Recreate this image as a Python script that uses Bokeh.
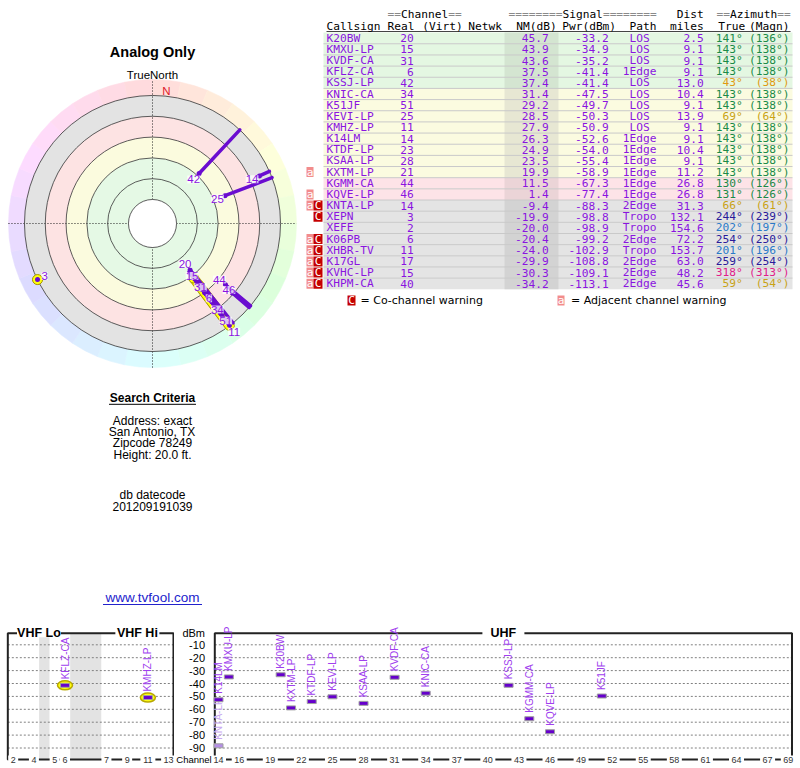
import math
import colorsys
from bokeh.plotting import figure
from bokeh.layouts import row, column
from bokeh.models import Range1d, ColumnDataSource, LabelSet
from bokeh.core.properties import value
from bokeh.embed import file_html
from bokeh.resources import INLINE

# ---------------- data ----------------
callsigns = ["K20BW", "KMXU-LP", "KVDF-CA", "KFLZ-CA", "KSSJ-LP", "KNIC-CA", "K51JF",
             "KEVI-LP", "KMHZ-LP", "K14LM", "KTDF-LP", "KSAA-LP", "KXTM-LP", "KGMM-CA",
             "KQVE-LP", "KNTA-LP", "XEPN", "XEFE", "K06PB", "XHBR-TV", "K17GL",
             "KVHC-LP", "KHPM-CA"]
real_ch = [20, 15, 31, 6, 42, 34, 51, 25, 11, 14, 23, 28, 21, 44, 46, 14, 3, 2, 6, 11, 17, 15, 40]
nm_db = [45.7, 43.9, 43.6, 37.5, 37.4, 31.4, 29.2, 28.5, 27.9, 26.3, 24.9, 23.5, 19.9, 11.5,
         1.4, -9.4, -19.9, -20.0, -20.4, -24.0, -29.9, -30.3, -34.2]
pwr_dbm = [-33.2, -34.9, -35.2, -41.4, -41.4, -47.5, -49.7, -50.3, -50.9, -52.6, -54.0, -55.4,
           -58.9, -67.3, -77.4, -88.3, -98.8, -98.9, -99.2, -102.9, -108.8, -109.1, -113.1]
path_type = ["LOS", "LOS", "LOS", "1Edge", "LOS", "LOS", "LOS", "LOS", "LOS", "1Edge", "1Edge",
             "1Edge", "1Edge", "1Edge", "1Edge", "2Edge", "Tropo", "Tropo", "2Edge", "Tropo",
             "2Edge", "2Edge", "2Edge"]
dist_miles = [2.5, 9.1, 9.1, 9.1, 13.0, 10.4, 9.1, 13.9, 9.1, 9.1, 10.4, 9.1, 11.2, 26.8, 26.8,
              31.3, 132.1, 154.6, 72.2, 153.7, 63.0, 48.2, 45.6]
az_true = [141, 143, 143, 143, 43, 143, 143, 69, 143, 143, 143, 143, 143, 130, 131, 66, 244,
           202, 254, 201, 259, 318, 59]
az_magn = [136, 138, 138, 138, 38, 138, 138, 64, 138, 138, 138, 138, 138, 126, 126, 61, 239,
           197, 250, 196, 254, 313, 54]
adj_warning = [0, 0, 0, 0, 0, 0, 0, 0, 0, 0, 0, 0, 1, 0, 1, 1, 0, 0, 1, 1, 1, 1, 1]
co_warning = [0, 0, 0, 0, 0, 0, 0, 0, 0, 0, 0, 0, 0, 0, 0, 1, 1, 0, 1, 1, 1, 1, 1]

chart_title = "Analog Only"
north_label = "TrueNorth"
ring_nm = [80, 60, 40, 20, 0, -20]
search_title = "Search Criteria"
search_lines = ["Address: exact", "San Antonio, TX", "Zipcode 78249", "Height: 20.0 ft."]
date_lines = ["db datecode", "201209191039"]
site_link = "www.tvfool.com"
dbm_ticks = [-10, -20, -30, -40, -50, -60, -70, -80, -90]
vhf_tick_ch = [2, 4, 5, 6, 7, 9, 11, 13]
uhf_tick_ch = [14, 16, 19, 22, 25, 28, 31, 34, 37, 40, 43, 46, 49, 52, 55, 58, 61, 64, 67, 69]
legend_texts = ["= Co-channel warning", "= Adjacent channel warning"]

# ---------------- styles ----------------
SANS = "Liberation Sans"
MONO = "DejaVu Sans Mono"
VERD = "DejaVu Sans"
PURPLE = "#8a14e0"
N = len(callsigns)
PAGE_W = 800


def make_fig(w, h, xr, yr):
    p = figure(width=w, height=h, x_range=Range1d(*xr), y_range=Range1d(*yr),
               output_backend="svg", toolbar_location=None,
               x_axis_location=None, y_axis_location=None, min_border=0)
    p.outline_line_color = None
    p.grid.visible = False
    p.background_fill_color = "white"
    p.border_fill_color = "white"
    return p


# ================= polar (left) =================
PX = 1.04           # px per dB in the radar
CX, CY = 152.0, 223.0
TOP_H = 612
LEFT_W = 305


def L(px, py):
    return ((px - CX) / PX, (CY - py) / PX)


pol = make_fig(LEFT_W, TOP_H, (L(0, 0)[0], L(LEFT_W, 0)[0]),
               (L(0, TOP_H)[1], L(0, 0)[1]))
CENTER_NM = 103.1


def rho(nm):
    return CENTER_NM - nm


R_OUT = rho(ring_nm[-1])
BAND = 16 / PX

# azimuth colour band
nseg = 32
st, en, cols = [], [], []
for k in range(nseg):
    a0 = 360.0 * k / nseg
    a1 = 360.0 * (k + 1) / nseg
    st.append(math.radians(90 - a1))
    en.append(math.radians(90 - a0))
    r, g, b = colorsys.hsv_to_rgb(((a0 + a1) / 2 % 360) / 360.0, 0.14, 1.0)
    cols.append("#%02x%02x%02x" % (int(r * 255), int(g * 255), int(b * 255)))
pol.annular_wedge(x=0, y=0, inner_radius=R_OUT, outer_radius=R_OUT + BAND,
                  start_angle=st, end_angle=en, fill_color=cols, line_color=cols,
                  line_width=0.6)

band_cols = ["#e5f9e5", "#e5f9e5", "#fbfbde", "#fde3e3", "#e3e3e3"]
pol.annulus(x=0, y=0, inner_radius=[rho(ring_nm[i]) for i in range(5)],
            outer_radius=[rho(ring_nm[i + 1]) for i in range(5)],
            fill_color=band_cols, line_color=None)

CR = R_OUT + BAND
pol.segment(x0=[-CR, 0], y0=[0, -CR], x1=[CR, 0], y1=[0, CR], line_color="#222",
            line_width=1, line_dash="1 2")
pol.circle(x=0, y=0, radius=[rho(v) for v in ring_nm[1:]], fill_color=None,
           line_color="#333", line_width=0.8)
pol.circle(x=0, y=0, radius=rho(ring_nm[0]), fill_color="white", line_color="#333",
           line_width=0.8)


def pxy(r, az):
    t = math.radians(90 - az)
    return r * math.cos(t), r * math.sin(t)


pol_idx = [i for i in range(N) if nm_db[i] > ring_nm[-1]]
vhf_pol = [i for i in pol_idx if real_ch[i] <= 13]


def seg_lists(idx):
    a = [pxy(rho(nm_db[i]), az_true[i]) for i in idx]
    b = [pxy(R_OUT, az_true[i]) for i in idx]
    return ([p[0] for p in a], [p[1] for p in a], [p[0] for p in b], [p[1] for p in b])


vx0, vy0, vx1, vy1 = seg_lists(vhf_pol)
pol.segment(x0=vx0, y0=vy0, x1=vx1, y1=vy1, line_color="#b4a400", line_width=10,
            line_cap="round")
pol.segment(x0=vx0, y0=vy0, x1=vx1, y1=vy1, line_color="#ffff10", line_width=8,
            line_cap="round")
pol.scatter(x=vx0, y=vy0, size=10, marker="circle", fill_color="#ffff10",
            line_color="#a89800", line_width=1)
ax0, ay0, ax1, ay1 = seg_lists(pol_idx)
pol.segment(x0=ax0, y0=ay0, x1=ax1, y1=ay1, line_color="#6a0cd0", line_width=3.5,
            line_cap="round")
pol.scatter(x=ax0, y=ay0, size=5, marker="circle", fill_color="#6a0cd0", line_color=None)

LABEL_IN = 8 / PX
LABEL_GAP = 14 / PX
LABEL_MAX = R_OUT + 10 / PX
placed = []
lx, ly, lt = [], [], []
for i in sorted(pol_idx, key=lambda j: -nm_db[j]):
    rl = rho(nm_db[i]) - LABEL_IN
    for (a, rr) in sorted(placed, key=lambda t: t[1]):
        if abs(a - az_true[i]) < 6 and abs(rl - rr) < LABEL_GAP:
            rl = rr + LABEL_GAP
    if rl > LABEL_MAX:
        continue
    placed.append((az_true[i], rl))
    x, y = pxy(rl, az_true[i])
    lx.append(x)
    ly.append(y)
    lt.append(str(real_ch[i]))
pol.add_layout(LabelSet(x="x", y="y", text="t", source=ColumnDataSource(dict(x=lx, y=ly, t=lt)),
                        text_align="center", text_baseline="middle", text_font=value(SANS),
                        text_font_size="11.5px", text_color=PURPLE,
                        background_fill_color="white", background_fill_alpha=0.75))


def ltext(px, py, txt, size, color="black", bold=False):
    x, y = L(px, py)
    pol.text(x=[x], y=[y], text=[txt], text_align="center", text_baseline="middle",
             text_font=value(SANS), text_font_size=size, text_color=color,
             text_font_style="bold" if bold else "normal")


ltext(152, 51.5, chart_title, "14.5px", bold=True)
ltext(152, 74.5, north_label, "11.5px")
ltext(166, 90.5, "N", "11.5px", color="#e0202a")
ltext(152, 397.3, search_title, "12px", bold=True)
u0, uy = L(108.5, 403.8)
u1, _ = L(195.5, 403.8)
pol.segment(x0=[u0], y0=[uy], x1=[u1], y1=[uy], line_color="black", line_width=1)
for k, s in enumerate(search_lines):
    ltext(152, 420 + 11.4 * k, s, "12px")
for k, s in enumerate(date_lines):
    ltext(152, 494.3 + 11.4 * k, s, "12px")
ltext(152, 597.3, site_link, "13.5px", color="#2222cc")
w0, wy = L(102.5, 604)
w1, _ = L(201.5, 604)
pol.segment(x0=[w0], y0=[wy], x1=[w1], y1=[wy], line_color="#2222cc", line_width=1)

# ================= table (right) =================
TAB_W = PAGE_W - LEFT_W
tab = make_fig(TAB_W, TOP_H, (LEFT_W, PAGE_W), (TOP_H, 0))
ROW0 = 37.7
ROWH = 11.16
ys = [ROW0 + ROWH * i for i in range(N)]


def grp(v):
    if v >= 35:
        return 0
    if v >= 15:
        return 1
    if v >= 0:
        return 2
    return 3


row_bg = ["#e4f7e2", "#fbfbe0", "#fde3e7", "#e4e4e4"]
strip_bg = ["#d4e5d1", "#e7e7d3", "#ebd4d7", "#d3d3d3"]
g = [grp(v) for v in nm_db]
tab.quad(left=323, right=792, top=[y - ROWH / 2 for y in ys], bottom=[y + ROWH / 2 for y in ys],
         fill_color=[row_bg[k] for k in g], line_color=None)
tab.quad(left=504, right=558, top=[y - ROWH / 2 for y in ys], bottom=[y + ROWH / 2 for y in ys],
         fill_color=[strip_bg[k] for k in g], line_color=None)
bounds = [y + ROWH / 2 for y in ys[:-1]]
tab.segment(x0=323, x1=792, y0=bounds, y1=bounds, line_color="#c9c9c9", line_width=1)
tab.segment(x0=[326], x1=[790], y0=[31], y1=[31], line_color="#444", line_width=1)

FS = "11.2px"
ADV = 0.602 * 11.2


def ttext(xs, yy, txts, align, color, font=MONO, size=FS):
    tab.text(x=xs, y=yy, text=txts, text_align=align, text_baseline="middle",
             text_font=value(font), text_font_size=size, text_color=color)


# header line 1
H1 = 14.3
for x0, word, neq in [(387, "Channel", 2), (508, "Signal", 8), (716, "Azimuth", 2)]:
    ttext([x0, x0 + (neq + len(word)) * ADV], [H1, H1], ["=" * neq, "=" * neq], "left", "#8a8a8a")
    ttext([x0 + neq * ADV], [H1], [word], "left", "black")
ttext([703.3], [H1], ["Dist"], "right", "black")
# header line 2
H2 = 25.7
ttext([326, 387, 421.7, 467.7, 515.7, 561.7, 629, 717.7], [H2] * 8,
      ["Callsign", "Real", "(Virt)", "Netwk", "NM(dB)", "Pwr(dBm)", "Path", "True"],
      "left", "black")
ttext([703.3, 789], [H2, H2], ["miles", "(Magn)"], "right", "black")


def az_color(a):
    if a < 30 or a >= 345:
        return "#d02020"
    if a < 55:
        return "#e09a10"
    if a < 100:
        return "#c8a214"
    if a < 185:
        return "#1a8a48"
    if a < 225:
        return "#2a7ac8"
    if a < 290:
        return "#2a1a9a"
    return "#e0208a"


ttext([326] * N, ys, callsigns, "left", PURPLE)
ttext([413.3] * N, ys, [str(c) for c in real_ch], "right", PURPLE)
ttext([548.3] * N, ys, ["%.1f" % v for v in nm_db], "right", PURPLE)
ttext([608.3] * N, ys, ["%.1f" % v for v in pwr_dbm], "right", PURPLE)
ttext([639.2] * N, ys, path_type, "center", PURPLE)
ttext([703.3] * N, ys, ["%.1f" % v for v in dist_miles], "right", PURPLE)
azc = [az_color(a) for a in az_true]
tab.text(x=[742.3] * N, y=ys, text=["%d\u00b0" % a for a in az_true], text_align="right",
         text_baseline="middle", text_font=value(MONO), text_font_size=FS, text_color=azc)
tab.text(x=[789] * N, y=ys, text=["(%d\u00b0)" % a for a in az_magn], text_align="right",
         text_baseline="middle", text_font=value(MONO), text_font_size=FS, text_color=azc)

# warning markers
ai = [i for i in range(N) if adj_warning[i]]
ci = [i for i in range(N) if co_warning[i]]
tab.quad(left=306, right=313, top=[ys[i] - 5 for i in ai], bottom=[ys[i] + 5 for i in ai],
         fill_color="#f28c8c", line_color=None)
ttext([309.5] * len(ai), [ys[i] for i in ai], ["a"] * len(ai), "center", "white")
tab.quad(left=313, right=322, top=[ys[i] - 5 for i in ci], bottom=[ys[i] + 5 for i in ci],
         fill_color="#c40000", line_color=None)
ttext([317.5] * len(ci), [ys[i] for i in ci], ["C"] * len(ci), "center", "white")

# legend
LY = 300
tab.quad(left=[347, 557], right=[355, 564], top=[LY - 5, LY - 5], bottom=[LY + 5, LY + 5],
         fill_color=["#c40000", "#f28c8c"], line_color=None)
ttext([351, 560.5], [LY, LY], ["C", "a"], "center", "white")
ttext([360, 570.5], [LY, LY], legend_texts, "left", "black", font=VERD, size="11px")

# ================= spectrum (bottom) =================
BOT_H = 154
DB0 = 631.4
DBS = 1.29


def dby(py):
    return (DB0 - py) / DBS


yr = (dby(TOP_H + BOT_H), dby(TOP_H))
CHW = 10.36
FT, FB = -1, -99
shown = [i for i in range(N) if pwr_dbm[i] > -95]


def style_stations(p, idx, xs):
    strong = [k for k, i in enumerate(idx) if nm_db[i] >= 0]
    weak = [k for k, i in enumerate(idx) if nm_db[i] < 0]
    hl = [k for k, i in enumerate(idx) if real_ch[i] <= 13]
    if hl:
        p.ellipse(x=[xs[k] for k in hl], y=[pwr_dbm[idx[k]] for k in hl], width=15, height=9,
                  width_units="screen", height_units="screen", fill_color="#ffff10",
                  line_color="#b8a800", line_width=1.5)
    for sel, bar, txt in [(weak, "#b48ee6", "#c8a8f0"), (strong, "#6600cc", "#a040ee")]:
        if not sel:
            continue
        bx = [xs[k] for k in sel]
        by = [pwr_dbm[idx[k]] for k in sel]
        p.rect(x=bx, y=by, width=9, height=4, width_units="screen", height_units="screen",
               fill_color=bar, line_color="#a0a0a0", line_width=1)
        p.text(x=bx, y=by, text=[callsigns[idx[k]] for k in sel], angle=math.pi / 2,
               text_align="left", text_baseline="middle", y_offset=-6,
               text_font=value(SANS), text_font_size="10px", text_color=txt)


def frame(p, left, right, titles):
    p.segment(x0=left, x1=right, y0=dbm_ticks, y1=dbm_ticks, line_color="#808080",
              line_width=1, line_dash="2 2")
    p.quad(left=[left], right=[right], top=[FT], bottom=[FB], fill_color=None,
           line_color="#222", line_width=2)
    for cx, t, w in titles:
        p.rect(x=[cx], y=[FT], width=w, height=8, width_units="screen", height_units="screen",
               fill_color="white", line_color=None)
        p.text(x=[cx], y=[FT], text=[t], text_align="center", text_baseline="middle",
               text_font=value(SANS), text_font_size="12.5px", text_font_style="bold",
               text_color="black")


def ticks(p, xs, labels):
    p.rect(x=xs, y=FB, width=[5 * len(s) + 5 for s in labels], height=8,
           width_units="screen", height_units="screen", fill_color="white", line_color=None)
    p.text(x=xs, y=FB, text=labels, text_align="center", text_baseline="middle",
           text_font=value(SANS), text_font_size="9px", text_color="#333")


# VHF
VPX0 = 12.7
VHF_W = 174


def vslot(ch):
    if ch <= 4:
        return ch - 2
    if ch <= 6:
        return ch - 1
    return ch + 2


vhf = make_fig(VHF_W, BOT_H, ((0 - VPX0) / CHW, (VHF_W - VPX0) / CHW), yr)
VL, VR = vslot(2) - 0.52, vslot(13) + 0.47
vhf.quad(left=[vslot(4) + 0.5, vslot(6) + 0.5], right=[vslot(5) - 0.5, vslot(7) - 0.5],
         top=FT, bottom=FB, fill_color="#e3e3e3", line_color=None)
frame(vhf, VL, VR, [((VL + vslot(6) + 0.5) / 2, "VHF Lo", 44),
                    ((vslot(7) - 0.5 + VR) / 2, "VHF Hi", 44)])
ticks(vhf, [vslot(c) for c in vhf_tick_ch], [str(c) for c in vhf_tick_ch])
vidx = [i for i in shown if real_ch[i] <= 13]
style_stations(vhf, vidx, [vslot(real_ch[i]) for i in vidx])

# UHF
UPX = 218.0
UX0 = VHF_W
UHF_W = PAGE_W - VHF_W
uhf = make_fig(UHF_W, BOT_H, (14 + (UX0 - UPX) / CHW, 14 + (UX0 + UHF_W - UPX) / CHW), yr)
UL, UR = 14 + (214.3 - UPX) / CHW, 14 + (791.5 - UPX) / CHW
frame(uhf, UL, UR, [((UL + UR) / 2, "UHF", 42)])
ticks(uhf, uhf_tick_ch, [str(c) for c in uhf_tick_ch])
LBX = 14 + (204.5 - UPX) / CHW
uhf.text(x=[LBX] * (len(dbm_ticks) + 1), y=[FT] + dbm_ticks,
         text=["dBm"] + [str(v) for v in dbm_ticks], text_align="right",
         text_baseline="middle", text_font=value(SANS), text_font_size="11px",
         text_color="black")
uhf.text(x=[14 + (193.5 - UPX) / CHW], y=[FB], text=["Channel"], text_align="center",
         text_baseline="middle", text_font=value(SANS), text_font_size="9.5px",
         text_color="black")
uidx = [i for i in shown if real_ch[i] >= 14]
style_stations(uhf, uidx, [real_ch[i] for i in uidx])

layout = column(row(pol, tab, spacing=0), row(vhf, uhf, spacing=0), spacing=0)
open("out.html", "w").write(file_html(layout, INLINE))
